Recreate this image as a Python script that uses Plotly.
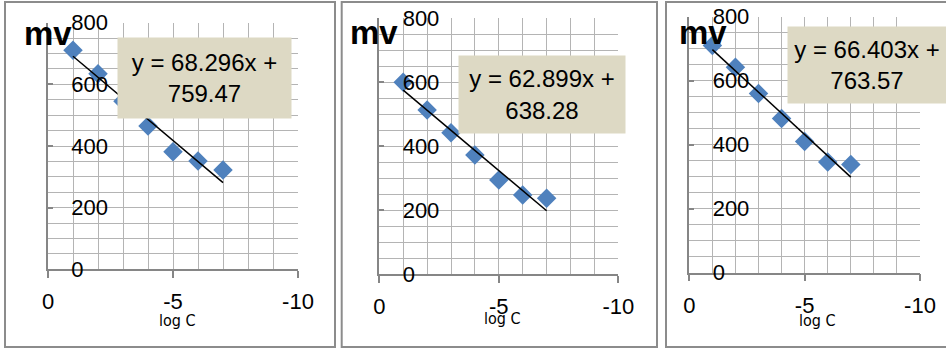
import plotly.graph_objects as go

# Electrode response: potential (mV) against log of concentration, three runs
log_c = [-1, -2, -3, -4, -5, -6, -7]
mv_run1 = [711, 634, 545, 465, 381, 351, 322]
mv_run2 = [600, 513, 442, 372, 294, 247, 237]
mv_run3 = [710, 642, 560, 482, 410, 346, 338]

# Linear fits quoted on each panel
slopes = [68.296, 62.899, 66.403]
intercepts = [759.47, 638.28, 763.57]

x_ticks = [0, -5, -10]
y_ticks = [0, 200, 400, 600, 800]

W, H = 946, 351

# plot-area boxes in pixels: (left, right, top, bottom)
plot_boxes = [(48, 298, 22.7, 269.3), (379.3, 618.3, 18.3, 274), (689.3, 920, 16.7, 272.7)]
# panel frames in pixels: (left, right, top, bottom); the last one runs off the right edge
frames = [(5, 335, 2, 347), (341.7, 657, 2, 347), (666, 946, 2, 347)]
# equation boxes: (center x, center y, width, height)
eq_boxes = [(204.5, 78, 173, 80), (542, 94.5, 166, 77), (867, 65, 158, 76)]
mv_pos = [(48, 33), (374, 32), (703, 32)]
logc_pos = [(177, 320), (502, 318), (817, 320)]

series = [mv_run1, mv_run2, mv_run3]

GRID = "#b4b4b4"
AXIS = "#868686"
BLUE = "#4f81bd"
TICK_FONT = dict(family="Liberation Sans, Arial, sans-serif", size=22, color="black")

fig = go.Figure()
layout_axes = {}
annotations = []
shapes = []

for i in range(3):
    n = "" if i == 0 else str(i + 1)
    left, right, top, bottom = plot_boxes[i]
    xa = "xaxis" + n
    ya = "yaxis" + n

    fig.add_trace(go.Scatter(
        x=log_c, y=series[i], mode="markers",
        marker=dict(symbol="diamond", size=15, color=BLUE, line=dict(width=0)),
        xaxis="x" + n, yaxis="y" + n, showlegend=False,
    ))
    x_end = [log_c[0], log_c[-1]]
    fig.add_trace(go.Scatter(
        x=x_end, y=[slopes[i] * v + intercepts[i] for v in x_end], mode="lines",
        line=dict(color="black", width=1.5),
        xaxis="x" + n, yaxis="y" + n, showlegend=False,
    ))

    layout_axes[xa] = dict(
        domain=[left / W, right / W], range=[0, -10], anchor="y" + n,
        automargin=False,
        tickmode="array", tickvals=x_ticks, ticktext=[str(v) for v in x_ticks],
        ticks="outside", ticklen=7, tickcolor=AXIS, tickwidth=1.5,
        ticklabelstandoff=5, ticklabeloverflow="allow",
        showgrid=True, gridcolor=GRID, gridwidth=1,
        minor=dict(dtick=1, showgrid=True, gridcolor=GRID, gridwidth=1, ticks=""),
        showline=True, linecolor=AXIS, linewidth=1.5, zeroline=False,
        tickfont=TICK_FONT, fixedrange=True,
    )
    layout_axes[ya] = dict(
        domain=[1 - bottom / H, 1 - top / H], range=[0, 800], anchor="x" + n,
        automargin=False,
        tickmode="array", tickvals=y_ticks, ticktext=[str(v) for v in y_ticks],
        ticks="inside", ticklen=5, tickcolor=AXIS, tickwidth=1.5,
        ticklabelposition="inside", ticklabelstandoff=20, ticklabeloverflow="allow",
        showgrid=True, gridcolor=GRID, gridwidth=1,
        minor=dict(dtick=50, showgrid=True, gridcolor=GRID, gridwidth=1, ticks=""),
        showline=True, linecolor=AXIS, linewidth=1.5, zeroline=False,
        tickfont=TICK_FONT, fixedrange=True,
    )

    fl, fr, ft, fb = frames[i]
    x0, x1, y0, y1 = fl / W, fr / W, 1 - fb / H, 1 - ft / H
    if fr >= W:
        # open on the right: only left, top and bottom edges
        path = f"M {x1} {y1} L {x0} {y1} L {x0} {y0} L {x1} {y0}"
        shapes.append(dict(type="path", xref="paper", yref="paper", path=path,
                           line=dict(color="#8c8c8c", width=2), layer="below"))
    else:
        shapes.append(dict(type="rect", xref="paper", yref="paper",
                           x0=x0, x1=x1, y0=y0, y1=y1,
                           line=dict(color="#8c8c8c", width=2), layer="below"))

    cx, cy, bw, bh = eq_boxes[i]
    annotations.append(dict(
        xref="paper", yref="paper", x=cx / W, y=1 - cy / H,
        xanchor="center", yanchor="middle", showarrow=False,
        text=f"y = {slopes[i]:.3f}x +<br>{intercepts[i]:.2f}",
        width=bw, height=bh, bgcolor="#ddd9c4", borderpad=0, align="center",
        font=dict(family="Liberation Sans, Arial, sans-serif", size=24, color="black"),
    ))

    mx, my = mv_pos[i]
    annotations.append(dict(
        xref="paper", yref="paper", x=mx / W, y=1 - my / H,
        xanchor="center", yanchor="middle", showarrow=False, text="<b>mv</b>",
        font=dict(family="Liberation Sans, Arial, sans-serif", size=33, color="black"),
    ))

    lx, ly = logc_pos[i]
    annotations.append(dict(
        xref="paper", yref="paper", x=lx / W, y=1 - ly / H,
        xanchor="center", yanchor="middle", showarrow=False, text="log C",
        font=dict(family="Liberation Sans Narrow, DejaVu Sans Condensed, Arial, sans-serif",
                  size=16, color="black"),
    ))

fig.update_layout(
    width=W, height=H, margin=dict(l=0, r=0, t=0, b=0, autoexpand=False),
    paper_bgcolor="white", plot_bgcolor="white",
    annotations=annotations, shapes=shapes, showlegend=False,
    **layout_axes,
)

fig.write_html("out.html", config={"displayModeBar": False})
